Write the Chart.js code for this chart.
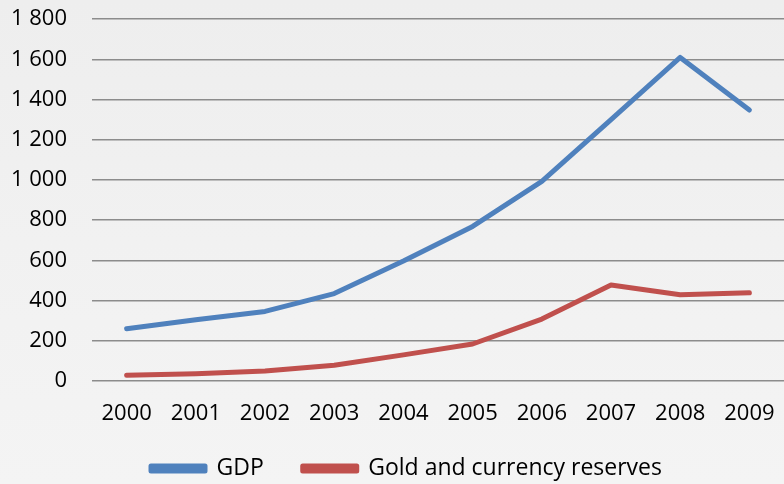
<!DOCTYPE html>
<html>
<head>
<meta charset="utf-8">
<script src="https://cdn.jsdelivr.net/npm/chart.js@4.4.0/dist/chart.umd.min.js"></script>
<style>
  html, body { margin: 0; padding: 0; }
  body { width: 784px; height: 484px; background: linear-gradient(#eeeeee, #f4f4f4); }
  #wrap { position: relative; width: 784px; height: 484px; }
</style>
</head>
<body>
<div id="wrap"><canvas id="chart"></canvas></div>
<script>
const years = ['2000', '2001', '2002', '2003', '2004', '2005', '2006', '2007', '2008', '2009'];
const gdp = [260, 305, 346, 435, 597, 769, 993, 1300, 1610, 1348];
const reserves = [28, 36, 50, 78, 130, 184, 308, 478, 429, 439];

const blue = '#4f81bd';
const red = '#c0504d';
const fontName = 'Open Sans';

function spaced(v) {
  return String(v).replace(/\B(?=(\d{3})+(?!\d))/g, ' ');
}

const ctx = document.getElementById('chart').getContext('2d');
new Chart(ctx, {
  type: 'line',
  data: {
    labels: years,
    datasets: [
      { label: 'GDP', data: gdp, borderColor: blue, backgroundColor: blue },
      { label: 'Gold and currency reserves', data: reserves, borderColor: red, backgroundColor: red }
    ]
  },
  options: {
    responsive: true,
    maintainAspectRatio: false,
    animation: false,
    // negative right padding only moves the legend; the plot is clamped to the canvas edge
    layout: { padding: { top: 6, left: 5, right: -24, bottom: -6 } },
    elements: {
      line: { borderWidth: 5, tension: 0, borderCapStyle: 'round', borderJoinStyle: 'round' },
      point: { radius: 0, hoverRadius: 0 }
    },
    plugins: {
      tooltip: { enabled: false },
      legend: {
        position: 'bottom',
        labels: {
          color: '#000',
          font: { family: fontName, size: 23 },
          boxWidth: 54,
          boxHeight: 5,
          padding: 10,
          // wider gap after the first entry, like the original legend
          generateLabels: chart => Chart.defaults.plugins.legend.labels.generateLabels(chart)
            .map((item, i) => i === 0 ? Object.assign(item, { text: item.text + '\u2003 ' }) : item)
        }
      }
    },
    scales: {
      x: {
        offset: true,
        grid: { display: false, drawTicks: false },
        border: { display: false },
        // tall line height leaves the empty band between the years and the legend
        ticks: { color: '#000', font: { family: fontName, size: 22, lineHeight: 3.0 }, padding: 0, maxRotation: 0 }
      },
      y: {
        min: 0,
        max: 1800,
        grid: { color: '#8c8c8c', lineWidth: 1.5, drawTicks: true, tickLength: 19, tickColor: 'rgba(0,0,0,0)' },
        border: { display: false },
        ticks: {
          stepSize: 200,
          color: '#000',
          font: { family: fontName, size: 22 },
          padding: 6,
          callback: v => spaced(v)
        }
      }
    }
  }
});
</script>
</body>
</html>
